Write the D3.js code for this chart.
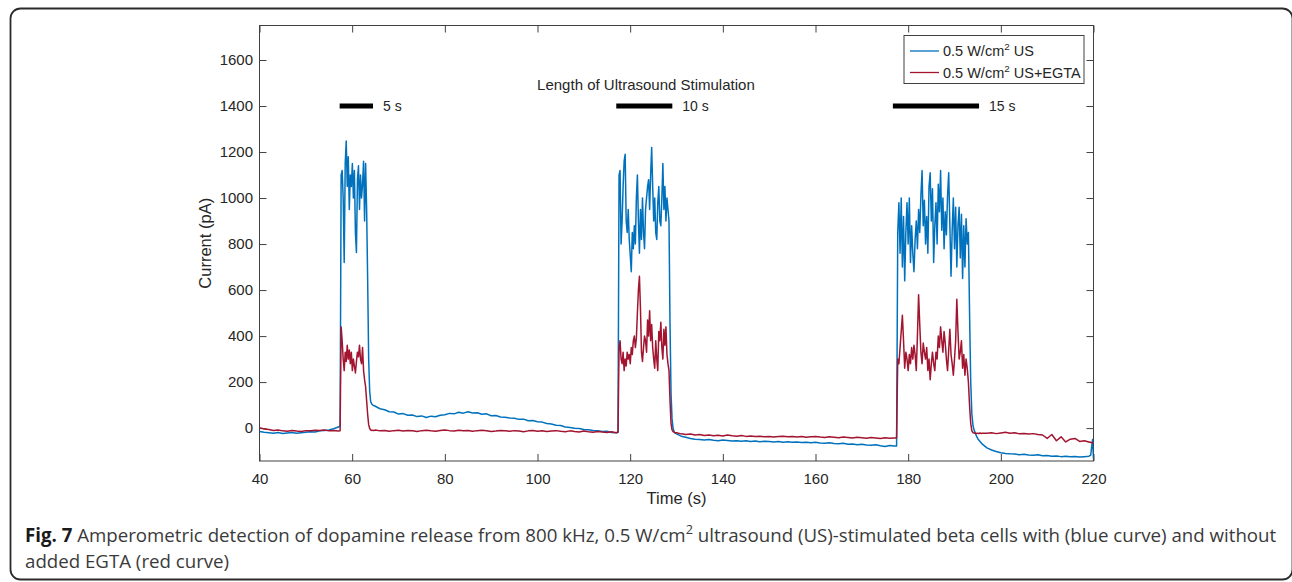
<!DOCTYPE html>
<html>
<head>
<meta charset="utf-8">
<script src="https://cdn.jsdelivr.net/npm/d3@7"></script>
<style>
  body { margin: 0; background: #fff; }
  svg { display: block; }
  .axis text { font-family: Arial, 'Liberation Sans', sans-serif; font-size: 15px; fill: #262626; }
  .label { font-family: Arial, 'Liberation Sans', sans-serif; fill: #262626; }
</style>
</head>
<body>
<svg id="chart" width="1292" height="582"></svg>
<script>
// axis ticks and limits
const xTicks = [40, 60, 80, 100, 120, 140, 160, 180, 200, 220]
const yTicks = [0, 200, 400, 600, 800, 1000, 1200, 1400, 1600]
const xDomain = [40, 220]
const yDomain = [-143, 1750]

// sampling of each recorded piece: baselines every 1 s, pulses finer
const baseStarts = [40, 65, 130, 197]
const pulseStarts = [57.4, 117.38, 177.5]
const pulseSteps = [0.22, 0.22, 0.25]

// 0.5 W/cm2 US (blue)
const usBase1 = [-15, -18, -20, -22, -19, -23, -21, -19, -22, -20, -18, -16, -17, -12, -10, -8, -3, 5]
const usPulse1 = [8, 1100, 1120, 1000, 720, 1150, 1248, 1050, 1180, 950, 1100, 1050, 1150, 1000, 1120, 850, 763,
  1080, 1140, 950, 1100, 1000, 1060, 1160, 900, 1150, 950, 650, 300, 160, 115, 105, 100, 98]
const usBase2 = [95, 84, 80, 71, 70, 61, 63, 56, 57, 50, 53, 46, 52, 49, 56, 58, 64, 62, 69, 65, 71, 66, 67, 60, 62,
  54, 55, 48, 47, 44, 43, 38, 39, 32, 33, 28, 26, 20, 18, 12, 11, 5, 3, -1, -2, -6, -7, -10, -11, -15, -14, -19, -20]
const usPulse2 = [-18, 1100, 1120, 800, 900, 1050, 1160, 1190, 900, 850, 950, 820, 750, 680, 850, 780, 880, 800, 1000,
  1100, 900, 760, 950, 820, 1000, 850, 780, 950, 1000, 1050, 1080, 950, 1100, 1220, 1050, 900, 1000, 850, 820, 980,
  1050, 900, 880, 1000, 1150, 950, 1050, 900, 1000, 950, 900, 450, 150, 40, 0, -15, -22]
const usBase3 = [-25, -35, -40, -45, -48, -50, -52, -50, -53, -55, -52, -54, -56, -55, -57, -55, -58, -56, -59, -57,
  -58, -60, -58, -61, -59, -62, -60, -63, -61, -64, -62, -65, -66, -64, -67, -68, -66, -70, -69, -72,
  -70, -73, -75, -72, -77, -80, -76, -78]
const usPulse3 = [-78, 850, 980, 760, 1000, 700, 920, 640, 850, 980, 800, 1000, 720, 880, 760, 680, 820, 900, 780, 950,
  850, 1010, 1120, 880, 990, 800, 920, 760, 1050, 1110, 900, 1040, 720, 880, 980, 800, 1060, 940, 1120, 860, 1000,
  780, 940, 840, 1010, 1110, 880, 660, 860, 1000, 780, 960, 700, 880, 960, 740, 930, 650, 880, 700, 910, 800, 850,
  500, 200, 60, 10, -10, -22, -35, -45, -52, -58, -64, -70]
const usBase4 = [-86, -95, -102, -107, -110, -112, -113, -116, -114, -117, -118, -116, -120, -119, -122, -121, -124,
  -122, -125, -123, -126, -124, -122]
const usTail = [-118, -80, -50, -135]

// 0.5 W/cm2 US+EGTA (red)
const egBase1 = [2, -4, -6, -10, -8, -12, -14, -10, -13, -15, -11, -12, -9, -10, -8, -12, -10, -13]
const egPulse1 = [-12, 440, 380, 300, 250, 330, 290, 360, 300, 340, 280, 330, 250, 300, 270, 240, 290, 330, 310, 360,
  300, 280, 350, 250, 210, 180, 120, 60, 15, -2, -8, -10, -9, -11]
const egBase2 = [-8, -12, -10, -14, -11, -9, -13, -10, -12, -15, -11, -9, -12, -14, -10, -8, -11, -13, -9, -12,
  -10, -14, -11, -9, -12, -15, -13, -10, -12, -14, -11, -13, -16, -12, -10, -14, -12, -15, -13, -11,
  -14, -16, -12, -15, -17, -13, -16, -18, -15, -17, -19, -16, -20]
const egPulse2 = [-18, 350, 380, 300, 280, 330, 250, 300, 270, 330, 300, 320, 280, 350, 320, 380, 400, 350, 390, 500,
  600, 660, 520, 330, 290, 350, 400, 380, 330, 470, 400, 510, 380, 450, 350, 300, 260, 380, 300, 250, 420, 380, 460,
  350, 300, 430, 360, 440, 320, 280, 250, 120, 20, -8, -15, -18, -20]
const egBase3 = [-20, -25, -28, -26, -30, -28, -32, -30, -33, -31, -34, -30, -33, -35, -32, -36, -34, -37, -35, -38,
  -36, -39, -37, -35, -38, -36, -39, -37, -40, -38, -36, -39, -41, -38, -40, -42, -39, -41, -43, -40,
  -42, -44, -41, -43, -45, -42, -44, -43]
const egPulse3 = [-43, 300, 280, 350, 420, 490, 380, 260, 330, 300, 250, 320, 280, 350, 300, 360, 320, 250, 400, 580,
  450, 330, 280, 370, 330, 300, 350, 250, 300, 210, 280, 330, 280, 250, 330, 300, 400, 350, 440, 380, 330,
  420, 370, 300, 250, 340, 430, 320, 280, 230, 300, 380, 560, 420, 300, 330, 380, 260, 320, 230, 300, 260, 200,
  100, 20, -12, -20, -22, -21, -23, -22, -24, -21, -23, -22]
const egBase4 = [-22, -20, -24, -21, -18, -22, -20, -25, -23, -26, -24, -28, -30, -45, -28, -55, -38, -60, -48, -45,
  -58, -55, -60, -65]

// stimulation bars drawn at 1400 pA
const stimStart = [57.3, 117, 176.7]
const stimEnd = [64.5, 129.1, 195.3]
const stimLabels = ['5 s', '10 s', '15 s']
const stimLevel = 1400

const seriesNames = ['0.5 W/cm|2| US', '0.5 W/cm|2| US+EGTA']
const seriesColors = ['#0072BD', '#A2142F']

const margin = { left: 259.5, top: 25.5 }
const width = 834
const height = 435.5

/**
 * Turns a list of evenly sampled values into points.
 *
 * @param {number} start Time of the first value
 * @param {number} step Time between two values
 * @param {number[]} values The samples
 * @returns {object[]} The points
 */
function segment (start, step, values) {
  return values.map((v, i) => ({ t: start + i * step, v: v }))
}

const usSeries = [].concat(
  segment(baseStarts[0], 1, usBase1), segment(pulseStarts[0], pulseSteps[0], usPulse1),
  segment(baseStarts[1], 1, usBase2), segment(pulseStarts[1], pulseSteps[1], usPulse2),
  segment(baseStarts[2], 1, usBase3), segment(pulseStarts[2], pulseSteps[2], usPulse3),
  segment(baseStarts[3], 1, usBase4), segment(219.4, 0.2, usTail))

const egSeries = [].concat(
  segment(baseStarts[0], 1, egBase1), segment(pulseStarts[0], pulseSteps[0], egPulse1),
  segment(baseStarts[1], 1, egBase2), segment(pulseStarts[1], pulseSteps[1], egPulse2),
  segment(baseStarts[2], 1, egBase3), segment(pulseStarts[2], pulseSteps[2], egPulse3),
  segment(baseStarts[3], 1, egBase4))

const svg = d3.select('#chart')
const g = svg.append('g').attr('transform', 'translate(' + margin.left + ', ' + margin.top + ')')

const xScale = d3.scaleLinear().domain(xDomain).range([0, width])
const yScale = d3.scaleLinear().domain(yDomain).range([height, 0])

/**
 * Adds a text with a superscript part, written as 'before|sup|after'.
 *
 * @param {*} sel The text selection
 * @param {string} str The text
 */
function supText (sel, str) {
  const parts = str.split('|')
  sel.append('tspan').text(parts[0])
  sel.append('tspan').attr('font-size', '0.68em').attr('dy', '-0.6em').text(parts[1])
  sel.append('tspan').attr('dy', '0.408em').text(parts[2])
}

/**
 * Draws the rounded frame around the figure.
 */
function drawFrame () {
  svg.append('rect')
    .attr('x', 10.5).attr('y', 8.5)
    .attr('width', 1282).attr('height', 571)
    .attr('rx', 10)
    .attr('fill', 'none')
    .attr('stroke', '#2b2b2b')
    .attr('stroke-width', 1.8)
}

/**
 * Draws the four axes with inward ticks and the box.
 */
function drawAxes () {
  const color = '#404040'
  const bottom = g.append('g').attr('class', 'axis').attr('color', color)
    .attr('transform', 'translate(0, ' + height + ')')
    .call(d3.axisBottom(xScale).tickValues(xTicks).tickSize(-7).tickPadding(12).tickFormat(d3.format('d')))
  const left = g.append('g').attr('class', 'axis').attr('color', color)
    .call(d3.axisLeft(yScale).tickValues(yTicks).tickSize(-7).tickPadding(6.5).tickFormat(d3.format('d')))
  const top = g.append('g').attr('class', 'axis').attr('color', color)
    .call(d3.axisTop(xScale).tickValues(xTicks).tickSize(-7).tickFormat(''))
  const right = g.append('g').attr('class', 'axis').attr('color', color)
    .attr('transform', 'translate(' + width + ', 0)')
    .call(d3.axisRight(yScale).tickValues(yTicks).tickSize(-7).tickFormat(''))
  ;[bottom, left, top, right].forEach(a => a.select('.domain').remove())

  g.append('rect')
    .attr('width', width).attr('height', height)
    .attr('fill', 'none').attr('stroke', color).attr('stroke-width', 1)

  g.append('text').attr('class', 'label')
    .attr('x', width / 2).attr('y', height + 43)
    .attr('text-anchor', 'middle').attr('font-size', '16.5px')
    .text('Time (s)')

  g.append('text').attr('class', 'label')
    .attr('transform', 'translate(-49, ' + height / 2 + ') rotate(-90)')
    .attr('text-anchor', 'middle').attr('font-size', '16.5px')
    .text('Current (pA)')
}

/**
 * Draws both current traces.
 */
function drawSeries () {
  g.append('clipPath').attr('id', 'plot-clip')
    .append('rect').attr('width', width).attr('height', height)

  const line = d3.line()
    .x(d => xScale(d.t))
    .y(d => yScale(d.v))

  g.selectAll('.trace')
    .data([usSeries, egSeries])
    .join('path')
    .attr('class', 'trace')
    .attr('clip-path', 'url(#plot-clip)')
    .attr('d', line)
    .attr('fill', 'none')
    .attr('stroke', (d, i) => seriesColors[i])
    .attr('stroke-width', 1.5)
    .attr('stroke-linejoin', 'round')
}

/**
 * Draws the stimulation length bars with their labels.
 */
function drawStimBars () {
  g.selectAll('.stim')
    .data(stimStart)
    .join('line')
    .attr('class', 'stim')
    .attr('x1', d => xScale(d))
    .attr('x2', (d, i) => xScale(stimEnd[i]))
    .attr('y1', yScale(stimLevel))
    .attr('y2', yScale(stimLevel))
    .attr('stroke', '#000')
    .attr('stroke-width', 5)

  g.selectAll('.stim-label')
    .data(stimLabels)
    .join('text')
    .attr('class', 'label stim-label')
    .attr('x', (d, i) => xScale(stimEnd[i]) + 10)
    .attr('y', yScale(stimLevel) + 5)
    .attr('font-size', '14px')
    .attr('fill', '#111')
    .text(d => d)

  g.append('text').attr('class', 'label')
    .attr('x', xScale(123.4)).attr('y', yScale(1468))
    .attr('text-anchor', 'middle').attr('font-size', '15px')
    .attr('fill', '#111')
    .text('Length of Ultrasound Stimulation')
}

/**
 * Draws the legend box in the upper right corner.
 */
function drawLegend () {
  const lg = g.append('g').attr('transform', 'translate(' + (width - 189.5) + ', 10)')
  lg.append('rect')
    .attr('width', 180).attr('height', 48)
    .attr('fill', '#fff').attr('stroke', '#404040').attr('stroke-width', 1)

  const items = lg.selectAll('.item')
    .data(seriesNames)
    .join('g')
    .attr('class', 'item')
    .attr('transform', (d, i) => 'translate(0, ' + (15.5 + i * 21.5) + ')')

  items.append('line')
    .attr('x1', 6).attr('x2', 35)
    .attr('stroke', (d, i) => seriesColors[i])
    .attr('stroke-width', 1.3)

  items.append('text')
    .attr('class', 'label')
    .attr('x', 39).attr('y', 5)
    .attr('font-size', '14.5px')
    .each(function (d) { supText(d3.select(this), d) })
}

/**
 * Draws the figure caption under the chart.
 */
function drawCaption () {
  const cap = svg.append('g')
    .attr('font-family', "'Open Sans', 'Noto Sans', sans-serif")
    .attr('fill', '#3a3a3a')
    .attr('font-size', '17px')

  const line1 = cap.append('text').attr('x', 25).attr('y', 542)
  line1.append('tspan').attr('font-weight', 'bold').attr('fill', '#1a1a1a').text('Fig. 7')
  supText(line1, ' Amperometric detection of dopamine release from 800 kHz, 0.5 W/cm|2| ultrasound (US)-stimulated beta cells with (blue curve) and without')

  cap.append('text').attr('x', 25).attr('y', 568).text('added EGTA (red curve)')

  // fit first line to the page width used by the original
  const w = line1.node().getComputedTextLength()
  cap.attr('font-size', (17 * 1252 / w) + 'px')
}

drawFrame()
drawAxes()
drawSeries()
drawStimBars()
drawLegend()
drawCaption()
</script>
</body>
</html>
